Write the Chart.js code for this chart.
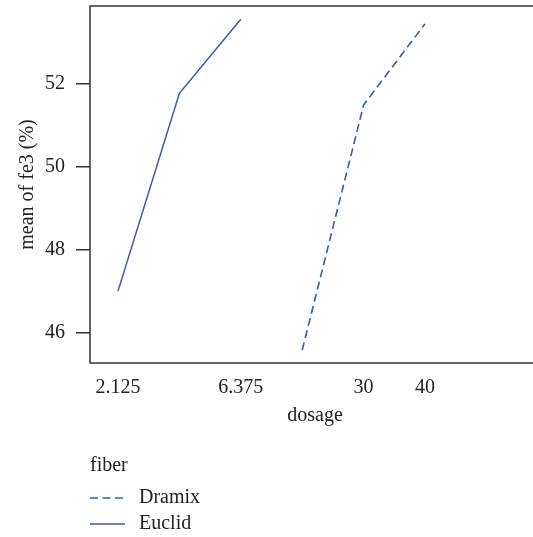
<!DOCTYPE html>
<html>
<head>
<meta charset="utf-8">
<script src="https://cdn.jsdelivr.net/npm/chart.js@4"></script>
<style>
  html, body { margin: 0; padding: 0; background: #fff; overflow: hidden; }
  #wrap { width: 540px; height: 537px; }
</style>
</head>
<body>
<div id="wrap"><canvas id="fe3_plot"></canvas></div>
<script>
'use strict';

// dosage levels (factor levels, evenly spaced on the x axis)
const dosageLevels = ['2.125', '4.25', '6.375', '20', '30', '40'];
// labels printed under the axis (crowded ones are left out)
const tickLabels = ['2.125', '', '6.375', '', '30', '40'];
const yTicks = [46, 48, 50, 52];

// mean of fe3 (%) for each fiber
const euclidMeans = [47.0, 51.76, 53.54, null, null, null];
const dramixMeans = [null, null, null, 45.58, 51.48, 53.43];

const lineBlue = '#3a58b4';
const serif = '"Liberation Serif", "DejaVu Serif", serif';
const textSize = 20;

function toPoints(values) {
  return values
    .map((v, i) => ({ x: i, y: v }))
    .filter(p => p.y !== null);
}

// frame round the plotting region
const boxPlugin = {
  id: 'box',
  afterDraw(chart) {
    const { ctx, chartArea: a } = chart;
    ctx.save();
    ctx.strokeStyle = '#333';
    ctx.lineWidth = 1.5;
    ctx.strokeRect(a.left, a.top, a.right - a.left, a.bottom - a.top);
    ctx.restore();
  }
};

// legend under the axis title: "fiber" and one line sample per dataset
const fiberLegend = {
  id: 'fiberLegend',
  afterDraw(chart) {
    const ctx = chart.ctx;
    const x0 = 90;
    ctx.save();
    ctx.font = textSize + 'px ' + serif;
    ctx.fillStyle = '#222';
    ctx.textBaseline = 'middle';
    ctx.fillText('fiber', x0, 466);
    chart.data.datasets.forEach((ds, i) => {
      const y = 498 + i * 26;
      ctx.strokeStyle = ds.borderColor;
      ctx.lineWidth = 1.5;
      ctx.setLineDash(ds.borderDash || []);
      ctx.beginPath();
      ctx.moveTo(x0, y);
      ctx.lineTo(x0 + 35, y);
      ctx.stroke();
      ctx.setLineDash([]);
      ctx.fillText(ds.label, x0 + 49, y);
    });
    ctx.restore();
  }
};

let contextFe3 = document.getElementById('fe3_plot').getContext('2d');

new Chart(contextFe3, {
  type: 'line',
  data: {
    datasets: [
      {
        label: 'Dramix',
        data: toPoints(dramixMeans),
        borderColor: lineBlue,
        borderWidth: 1.6,
        borderDash: [8, 4.5],
        pointRadius: 0,
        fill: false
      },
      {
        label: 'Euclid',
        data: toPoints(euclidMeans),
        borderColor: lineBlue,
        borderWidth: 1.5,
        pointRadius: 0,
        fill: false
      }
    ]
  },
  options: {
    responsive: true,
    maintainAspectRatio: false,
    animation: false,
    layout: { padding: { left: 0, right: 0, top: 6, bottom: 109 } },
    plugins: {
      legend: { display: false },
      tooltip: { enabled: false }
    },
    scales: {
      x: {
        type: 'linear',
        min: -0.456,
        max: 6.873,
        afterBuildTicks(scale) {
          scale.ticks = dosageLevels.map((d, i) => ({ value: i }));
        },
        afterFit(scale) {
          scale.height = 65;
          scale.paddingLeft = 0;
          scale.paddingRight = 0;
        },
        ticks: {
          autoSkip: false,
          maxRotation: 0,
          padding: 13,
          color: '#222',
          font: { family: serif, size: textSize, lineHeight: 1.2 },
          callback: (v) => tickLabels[v]
        },
        grid: { display: false, drawTicks: false },
        border: { display: false },
        title: {
          display: true,
          text: 'dosage',
          color: '#222',
          font: { family: serif, size: textSize },
          padding: { top: 0, bottom: 0 }
        }
      },
      y: {
        min: 45.27,
        max: 53.86,
        afterBuildTicks(scale) {
          scale.ticks = yTicks.map(v => ({ value: v }));
        },
        afterFit(scale) {
          scale.width = 90;
          scale.paddingTop = 0;
          scale.paddingBottom = 0;
        },
        ticks: {
          padding: 11,
          color: '#222',
          font: { family: serif, size: textSize }
        },
        grid: {
          drawOnChartArea: false,
          drawTicks: true,
          tickLength: 14,
          tickColor: '#333',
          lineWidth: 1.5
        },
        border: { display: false },
        title: {
          display: true,
          text: 'mean of fe3 (%)',
          color: '#222',
          font: { family: serif, size: textSize },
          padding: { top: 16, bottom: 0 }
        }
      }
    }
  },
  plugins: [boxPlugin, fiberLegend]
});
</script>
</body>
</html>
